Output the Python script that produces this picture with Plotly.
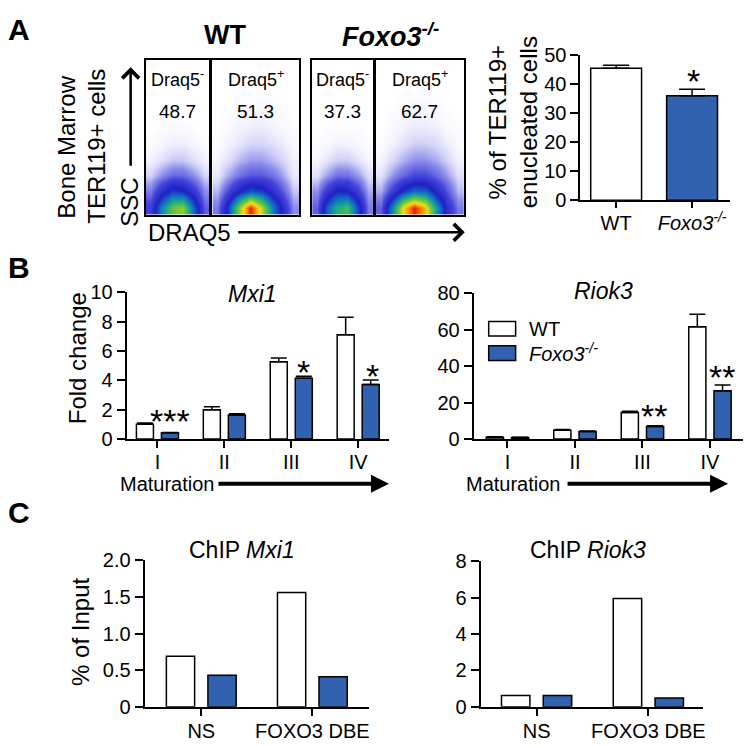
import plotly.graph_objects as go

W, H = 748, 746
FONT = "Liberation Sans, Arial, sans-serif"
BLUE = "#3062b0"

# ---- panel A: flow density grids (rows bottom -> top), read by eye
wt_neg = [[2, 4.5, 6.5, 7, 4, 1.5],
          [1.2, 2.5, 3.5, 3.2, 2.2, 1],
          [0.5, 1, 1.4, 1.4, 1, 0.5],
          [0.2, 0.4, 0.6, 0.6, 0.4, 0.2],
          [0.05, 0.15, 0.25, 0.25, 0.15, 0.05],
          [0, 0.05, 0.1, 0.1, 0.05, 0],
          [0, 0, 0, 0, 0, 0],
          [0, 0, 0, 0, 0, 0],
          [0, 0, 0, 0, 0, 0],
          [0, 0, 0, 0, 0, 0]]
wt_pos = [[1.2, 3.5, 7, 10, 7.5, 4.5, 2.5, 1],
          [0.7, 1.8, 3, 3.8, 3.5, 2.5, 1.5, 0.6],
          [0.3, 0.8, 1.3, 1.6, 1.6, 1.3, 0.8, 0.3],
          [0.15, 0.4, 0.7, 0.9, 0.9, 0.7, 0.45, 0.2],
          [0.05, 0.2, 0.35, 0.5, 0.5, 0.4, 0.25, 0.1],
          [0, 0.1, 0.2, 0.25, 0.3, 0.2, 0.1, 0.05],
          [0, 0.05, 0.1, 0.1, 0.15, 0.1, 0.05, 0],
          [0, 0, 0.05, 0.05, 0.05, 0.05, 0, 0],
          [0, 0, 0, 0, 0, 0, 0, 0],
          [0, 0, 0, 0, 0, 0, 0, 0]]
ko_neg = [[1.5, 4, 5.5, 6, 3.5, 1.2],
          [1, 2.2, 3.2, 3, 2, 0.8],
          [0.4, 0.9, 1.3, 1.3, 0.9, 0.4],
          [0.15, 0.35, 0.55, 0.55, 0.35, 0.15],
          [0.05, 0.1, 0.2, 0.2, 0.1, 0.05],
          [0, 0.05, 0.05, 0.05, 0.05, 0],
          [0, 0, 0, 0, 0, 0],
          [0, 0, 0, 0, 0, 0],
          [0, 0, 0, 0, 0, 0],
          [0, 0, 0, 0, 0, 0]]
ko_pos = [[1.5, 4.5, 8, 10, 8.5, 5, 2.5, 1.2],
          [0.8, 2, 3.3, 4.2, 4, 2.8, 1.6, 0.7],
          [0.35, 0.9, 1.4, 1.8, 1.8, 1.4, 0.9, 0.4],
          [0.15, 0.45, 0.75, 1, 1, 0.8, 0.5, 0.2],
          [0.05, 0.2, 0.4, 0.55, 0.55, 0.45, 0.25, 0.1],
          [0, 0.1, 0.2, 0.3, 0.3, 0.25, 0.1, 0.05],
          [0, 0.05, 0.1, 0.15, 0.15, 0.1, 0.05, 0],
          [0, 0, 0.05, 0.05, 0.05, 0.05, 0, 0],
          [0, 0, 0, 0, 0, 0, 0, 0],
          [0, 0, 0, 0, 0, 0, 0, 0]]
gate_labels = ["Draq5<sup>-</sup>", "Draq5<sup>+</sup>", "Draq5<sup>-</sup>", "Draq5<sup>+</sup>"]
gate_values = ["48.7", "51.3", "37.3", "62.7"]

# ---- panel A: enucleated cells
enuc_groups = ["WT", "Foxo3"]
enuc_labels = ["WT", "<i>Foxo3<sup>-/-</sup></i>"]
enuc_mean = [45.3, 35.9]
enuc_err = [1.1, 2.2]

# ---- panel B: fold change by maturation stage
stages = ["I", "II", "III", "IV"]
mxi1_wt = [1.0, 2.0, 5.27, 7.12]
mxi1_wt_err = [0.1, 0.2, 0.26, 1.18]
mxi1_ko = [0.42, 1.64, 4.14, 3.72]
mxi1_ko_err = [0.02, 0.08, 0.15, 0.3]
riok3_wt = [1.0, 4.8, 14.6, 61.7]
riok3_wt_err = [0.2, 0.4, 0.7, 6.9]
riok3_ko = [0.8, 4.1, 6.9, 26.5]
riok3_ko_err = [0.1, 0.3, 0.4, 3.2]

# ---- panel C: ChIP
sites = ["NS", "FOXO3 DBE"]
chip_mxi1_wt = [0.69, 1.56]
chip_mxi1_ko = [0.43, 0.41]
chip_riok3_wt = [0.62, 5.96]
chip_riok3_ko = [0.62, 0.48]


def dx(a, b):
    return [a / W, b / W]


def dy(top, bottom):
    return [1 - bottom / H, 1 - top / H]


def px(x):
    return x / W


def py(y):
    return 1 - y / H


annotations = []


def note(text, x, y, size, xanchor="center", yanchor="middle", angle=0):
    annotations.append(dict(text=text, x=px(x), y=py(y), xref="paper", yref="paper",
                            xanchor=xanchor, yanchor=yanchor, textangle=angle, showarrow=False,
                            font=dict(size=size, color="black", family=FONT)))


def arrow(x0, y0, x1, y1, width, head, size=1.0):
    # head at (x1, y1), tail offset in pixels
    annotations.append(dict(text="", x=px(x1), y=py(y1), ax=x0 - x1, ay=y0 - y1,
                            xref="paper", yref="paper", axref="pixel", ayref="pixel",
                            showarrow=True, arrowhead=head, arrowwidth=width, arrowsize=size,
                            arrowcolor="black", standoff=0, startstandoff=0))


fig = go.Figure()

flow_scale = [[0, "#ffffff"], [0.02, "#f2f2fd"], [0.05, "#d4d4f8"], [0.1, "#8c8cec"],
              [0.18, "#4444dc"], [0.3, "#2020c4"], [0.42, "#1070c8"], [0.55, "#20b080"],
              [0.68, "#80c830"], [0.8, "#f0e020"], [0.9, "#ff8c00"], [1, "#e8200a"]]

flow_boxes = [(146, 210), (213, 300), (313, 374), (377, 465)]
grids = [wt_neg, wt_pos, ko_neg, ko_pos]
layout_axes = {}
for i, (grid, (x0, x1)) in enumerate(zip(grids, flow_boxes), start=1):
    ncol, nrow = len(grid[0]), len(grid)
    fig.add_trace(go.Heatmap(z=grid, x=list(range(ncol)), y=list(range(nrow)),
                             colorscale=flow_scale, zmin=0, zmax=10, zsmooth="best",
                             showscale=False, xaxis="x%d" % i, yaxis="y%d" % i,
                             hoverinfo="skip"))
    box = dict(showline=True, mirror=True, linewidth=1.5, linecolor="black",
               showgrid=False, zeroline=False, showticklabels=False, ticks="")
    layout_axes["xaxis%d" % i] = dict(box, domain=dx(x0, x1), range=[-0.5, ncol - 0.5],
                                      anchor="y%d" % i)
    layout_axes["yaxis%d" % i] = dict(box, domain=dy(50, 210), range=[-0.5, nrow - 0.5],
                                      anchor="x%d" % i)
    cx = (x0 + x1) / 2
    note(gate_labels[i - 1], cx, 70, 18)
    note(gate_values[i - 1], cx, 104, 19)

axis_common = dict(showline=True, linewidth=2, linecolor="black", showgrid=False,
                   zeroline=False, ticks="outside", ticklen=8, tickwidth=2, tickcolor="black",
                   tickfont=dict(size=20, color="black", family=FONT))

# enucleated bar chart
fig.add_trace(go.Bar(x=enuc_groups, y=enuc_mean, width=0.67, xaxis="x5", yaxis="y5",
                     marker=dict(color=["white", BLUE], line=dict(color="black", width=1.5)),
                     error_y=dict(type="data", symmetric=False, array=enuc_err,
                                  arrayminus=[0, 0], color="black", thickness=1.5, width=13)))
layout_axes["xaxis5"] = dict(axis_common, domain=dx(582, 732), range=[-0.47, 1.5],
                             anchor="y5", tickvals=enuc_groups, ticktext=enuc_labels, ticklen=6,
                             ticklabelstandoff=-2)
layout_axes["yaxis5"] = dict(axis_common, domain=dy(45, 195), range=[0, 50],
                             anchor="x5", tickvals=[0, 10, 20, 30, 40, 50])


def bar_pair(wt, ko, cats, ax, wt_err=None, ko_err=None, cap=8):
    for vals, err, color in [(wt, wt_err, "white"), (ko, ko_err, BLUE)]:
        eb = None
        if err is not None:
            eb = dict(type="data", symmetric=False, array=err, arrayminus=[0] * len(err),
                      color="black", thickness=1.5, width=cap)
        fig.add_trace(go.Bar(x=cats, y=vals, xaxis="x%d" % ax, yaxis="y%d" % ax,
                             marker=dict(color=color, line=dict(color="black", width=1.5)),
                             error_y=eb))


bar_pair(mxi1_wt, mxi1_ko, stages, 6, mxi1_wt_err, mxi1_ko_err)
bar_pair(riok3_wt, riok3_ko, stages, 7, riok3_wt_err, riok3_ko_err)
bar_pair(chip_mxi1_wt, chip_mxi1_ko, sites, 8)
bar_pair(chip_riok3_wt, chip_riok3_ko, sites, 9)

xcat = dict(axis_common, ticklen=7, ticklabelstandoff=-3)
layout_axes["xaxis6"] = dict(xcat, domain=dx(127, 390), range=[-0.46, 3.46], anchor="y6")
layout_axes["yaxis6"] = dict(axis_common, domain=dy(290, 441), range=[0, 10], anchor="x6",
                             tickvals=[0, 2, 4, 6, 8, 10])
layout_axes["xaxis7"] = dict(xcat, domain=dx(475, 745), range=[-0.5, 3.49], anchor="y7")
layout_axes["yaxis7"] = dict(axis_common, domain=dy(291, 441), range=[0, 80], anchor="x7",
                             tickvals=[0, 20, 40, 60, 80])
layout_axes["xaxis8"] = dict(xcat, domain=dx(145, 370), range=[-0.51, 1.51], anchor="y8",
                             ticklabelstandoff=-2)
layout_axes["yaxis8"] = dict(axis_common, domain=dy(566, 717), range=[0, 2], anchor="x8",
                             tickvals=[0, 0.5, 1, 1.5, 2], ticktext=["0", "0.5", "1.0", "1.5", "2.0"])
layout_axes["xaxis9"] = dict(xcat, domain=dx(482, 705), range=[-0.5, 1.49], anchor="y9",
                             ticklabelstandoff=-2)
layout_axes["yaxis9"] = dict(axis_common, domain=dy(567, 717), range=[0, 8], anchor="x9",
                             tickvals=[0, 2, 4, 6, 8])

# panel letters and headings
note("<b>A</b>", 6, 19, 30, xanchor="left")
note("<b>B</b>", 6, 264, 30, xanchor="left")
note("<b>C</b>", 6, 517, 30, xanchor="left")
note("<b>WT</b>", 226, 25, 27)
note("<b><i>Foxo3<sup>-/-</sup></i></b>", 392, 25, 27)

note("Bone Marrow", 67, 140, 24, angle=-90)
note("TER119+ cells", 97, 139, 24, angle=-90)
note("SSC", 130, 197, 24, angle=-90)
arrow(131, 158, 131, 58, 2.5, 4, 1.3)
note("DRAQ5", 146, 228, 24, xanchor="left")
arrow(238, 228, 466, 228, 2.5, 4, 1.3)

note("% of TER119+<br>enucleated cells", 514, 115, 24, angle=-90)
note("*", 695, 72, 34)

# panel B text
note("<i>Mxi1</i>", 253, 292, 23)
note("<i>Riok3</i>", 605, 288, 23)
note("Fold change", 78, 358, 24, angle=-90)
note("Maturation", 118, 487, 20, xanchor="left")
arrow(218, 487, 390, 487, 4, 2, 0.9)
note("Maturation", 465, 487, 20, xanchor="left")
arrow(568, 487, 730, 487, 4, 2, 0.9)
note("***", 170, 422, 34)
note("*", 304, 372, 34)
note("*", 373, 376, 34)
note("**", 656, 417, 34)
note("**", 724, 377, 34)

# legend
shapes = [dict(type="rect", xref="paper", yref="paper", x0=px(490), x1=px(517), y0=py(335), y1=py(320),
               fillcolor="white", line=dict(color="black", width=1.5)),
          dict(type="rect", xref="paper", yref="paper", x0=px(490), x1=px(517), y0=py(360), y1=py(345),
               fillcolor=BLUE, line=dict(color="black", width=1.5))]
note("WT", 528, 328, 20, xanchor="left")
note("<i>Foxo3<sup>-/-</sup></i>", 528, 352, 20, xanchor="left")

# panel C text
note("ChIP <i>Mxi1</i>", 243, 555, 23)
note("ChIP <i>Riok3</i>", 590, 555, 23)
note("% of Input", 80, 640, 24, angle=-90)

fig.update_layout(
    width=W, height=H, margin=dict(l=0, r=0, t=0, b=0),
    paper_bgcolor="white", plot_bgcolor="rgba(0,0,0,0)",
    showlegend=False, barmode="group", bargap=0.252, bargroupgap=0.32,
    font=dict(family=FONT, color="black"),
    annotations=annotations, shapes=shapes,
    **layout_axes,
)

# page body has a default 8px margin; drop it so the figure fills the window
fig.write_html("out.html", config={"displayModeBar": False},
               post_script="document.body.style.margin='0';")
